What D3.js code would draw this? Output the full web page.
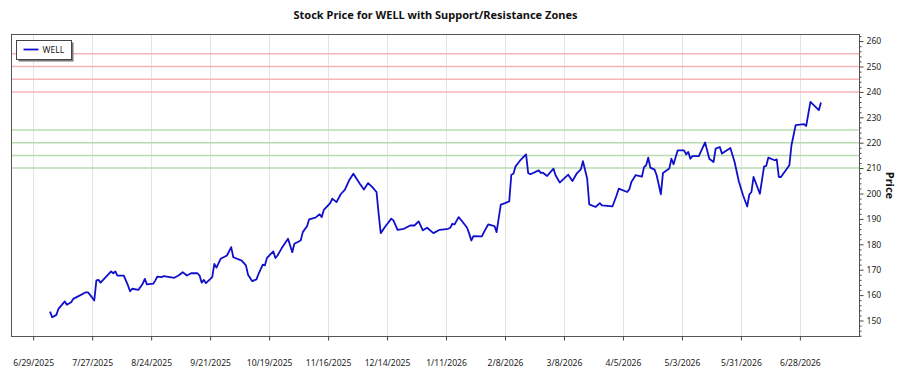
<!DOCTYPE html>
<html>
<head>
<meta charset="utf-8">
<script src="https://cdn.jsdelivr.net/npm/d3@7"></script>
<style>
  body { margin: 0; background: #fff; }
  svg { display: block; font-family: "Segoe UI", "Noto Sans", sans-serif; }
</style>
</head>
<body>
<svg id="chart" width="900" height="375"></svg>
<script>
// closing prices
const dates = [
  "2025-07-07","2025-07-08","2025-07-10","2025-07-11","2025-07-14","2025-07-15","2025-07-17","2025-07-18","2025-07-21","2025-07-24",
  "2025-07-25","2025-07-26","2025-07-28","2025-07-29","2025-07-30","2025-07-31","2025-08-02","2025-08-05","2025-08-06","2025-08-07",
  "2025-08-08","2025-08-11","2025-08-13","2025-08-14","2025-08-15","2025-08-18","2025-08-20","2025-08-21","2025-08-22","2025-08-25",
  "2025-08-26","2025-08-27","2025-08-29","2025-08-30","2025-09-04","2025-09-06","2025-09-08","2025-09-10","2025-09-12","2025-09-15",
  "2025-09-16","2025-09-17","2025-09-18","2025-09-19","2025-09-22","2025-09-23","2025-09-24","2025-09-26","2025-09-29","2025-10-01",
  "2025-10-02","2025-10-06","2025-10-08","2025-10-09","2025-10-11","2025-10-13","2025-10-14","2025-10-16","2025-10-17","2025-10-18",
  "2025-10-21","2025-10-22","2025-10-23","2025-10-25","2025-10-28","2025-10-30","2025-10-31","2025-11-03","2025-11-04","2025-11-06",
  "2025-11-07","2025-11-10","2025-11-12","2025-11-13","2025-11-14","2025-11-17","2025-11-18","2025-11-20","2025-11-22","2025-11-24",
  "2025-11-26","2025-11-28","2025-12-01","2025-12-03","2025-12-05","2025-12-07","2025-12-09","2025-12-10","2025-12-11","2025-12-13",
  "2025-12-16","2025-12-17","2025-12-19","2025-12-22","2025-12-25","2025-12-27","2025-12-29","2025-12-31","2026-01-02","2026-01-05",
  "2026-01-08","2026-01-12","2026-01-13","2026-01-14","2026-01-15","2026-01-17","2026-01-19","2026-01-21","2026-01-22","2026-01-23",
  "2026-01-24","2026-01-28","2026-01-29","2026-01-31","2026-02-03","2026-02-04","2026-02-06","2026-02-08","2026-02-10","2026-02-11",
  "2026-02-12","2026-02-13","2026-02-15","2026-02-18","2026-02-19","2026-02-20","2026-02-24","2026-02-25","2026-02-26","2026-02-28",
  "2026-03-03","2026-03-04","2026-03-06","2026-03-10","2026-03-12","2026-03-14","2026-03-16","2026-03-17","2026-03-19","2026-03-20",
  "2026-03-23","2026-03-25","2026-03-26","2026-03-31","2026-04-02","2026-04-03","2026-04-07","2026-04-08","2026-04-09","2026-04-11",
  "2026-04-14","2026-04-15","2026-04-16","2026-04-17","2026-04-18","2026-04-20","2026-04-21","2026-04-23","2026-04-24","2026-04-27",
  "2026-04-28","2026-04-29","2026-05-01","2026-05-04","2026-05-05","2026-05-06","2026-05-07","2026-05-08","2026-05-11","2026-05-14",
  "2026-05-16","2026-05-18","2026-05-19","2026-05-21","2026-05-22","2026-05-26","2026-05-28","2026-05-30","2026-06-01","2026-06-03",
  "2026-06-04","2026-06-05","2026-06-06","2026-06-09","2026-06-11","2026-06-12","2026-06-13","2026-06-16","2026-06-17","2026-06-18",
  "2026-06-19","2026-06-23","2026-06-24","2026-06-26","2026-06-30","2026-07-01","2026-07-03","2026-07-07","2026-07-08"
];
const prices = [
  153.5,151.3,152.2,154.6,157.5,156.2,157.2,158.5,159.8,161.1,
  161.1,160.1,157.9,165.8,166.0,164.9,166.7,169.3,168.6,169.3,
  167.7,167.7,163.8,161.5,162.5,162.1,164.5,166.4,164.2,164.5,
  165.8,167.3,167.1,167.5,166.8,167.7,169.0,167.7,168.6,168.6,
  167.7,164.9,166.0,164.7,167.1,172.3,170.8,174.3,175.6,178.9,
  174.9,173.6,171.7,168.0,165.5,166.2,168.4,172.0,171.7,174.7,
  177.2,174.6,175.6,178.5,182.2,176.9,180.2,181.5,184.8,187.1,
  189.8,190.5,191.8,190.7,193.6,196.2,198.0,196.6,199.7,201.5,
  205.2,207.8,203.9,201.6,204.1,202.5,200.6,192.1,184.4,186.8,
  190.1,189.4,185.7,186.1,187.4,187.4,189.0,185.5,186.5,184.4,
  185.7,186.1,186.5,188.1,187.8,190.7,188.7,186.5,184.2,181.5,
  183.2,183.1,184.8,187.8,187.2,184.8,195.6,196.2,196.9,207.4,
  207.8,210.7,212.8,215.4,208.1,207.6,209.1,208.1,208.2,206.9,
  209.8,207.2,204.3,207.4,204.9,207.8,209.5,212.7,205.9,195.7,
  194.7,196.2,195.3,194.9,199.3,201.9,200.6,201.6,204.5,207.2,
  206.6,210.4,211.1,214.1,210.2,209.4,207.2,199.7,208.1,209.8,
  213.7,211.5,217.0,217.0,215.4,216.4,213.7,214.7,214.7,220.1,
  213.7,212.4,217.7,218.3,215.7,217.9,212.4,204.8,199.3,194.9,
  199.6,200.6,206.5,199.9,210.7,210.8,214.1,213.1,213.4,206.5,
  206.5,211.1,219.0,226.9,227.3,226.6,236.1,232.8,235.8
];
const resistance = [240, 245, 250, 255];
const support = [210, 215, 220, 225];
const xTickDates = ["2025-06-29","2025-07-27","2025-08-24","2025-09-21","2025-10-19","2025-11-16","2025-12-14",
  "2026-01-11","2026-02-08","2026-03-08","2026-04-05","2026-05-03","2026-05-31","2026-06-28"];
const yTicks = [150, 160, 170, 180, 190, 200, 210, 220, 230, 240, 250, 260];
const yLimits = [143.7, 262.6];
const ticker = "WELL";

const parse = d3.timeParse("%Y-%m-%d");
const data = dates.map((d, i) => ({ date: parse(d), price: prices[i] }));

const svg = d3.select("#chart");
const pLeft = 11.5, pRight = 859.5, pTop = 34.5, pBottom = 336.5;

// x axis gets 5% padding on both sides of the data
const ext = d3.extent(data, d => d.date);
const pad = (ext[1] - ext[0]) * 0.05;
const x = d3.scaleTime()
    .domain([new Date(+ext[0] - pad), new Date(+ext[1] + pad)])
    .range([pLeft, pRight]);
const y = d3.scaleLinear().domain(yLimits).range([pBottom, pTop]);

const xTicks = xTickDates.map(parse);
const fmt = d => (d.getMonth() + 1) + "/" + d.getDate() + "/" + d.getFullYear();

// vertical grid
svg.append("g")
    .selectAll("line")
    .data(xTicks)
    .join("line")
    .attr("x1", d => Math.round(x(d)) + 0.5)
    .attr("x2", d => Math.round(x(d)) + 0.5)
    .attr("y1", pTop)
    .attr("y2", pBottom)
    .attr("stroke", "#e3e3e3")
    .attr("stroke-width", 1);

// zone lines
svg.append("g")
    .selectAll("line")
    .data(resistance)
    .join("line")
    .attr("x1", pLeft).attr("x2", pRight)
    .attr("y1", d => y(d)).attr("y2", d => y(d))
    .attr("stroke", "#f7b4b4")
    .attr("stroke-width", 1.5);

svg.append("g")
    .selectAll("line")
    .data(support)
    .join("line")
    .attr("x1", pLeft).attr("x2", pRight)
    .attr("y1", d => y(d)).attr("y2", d => y(d))
    .attr("stroke", "#b7dcb0")
    .attr("stroke-width", 1.5);

// price line
svg.append("path")
    .datum(data)
    .attr("fill", "none")
    .attr("stroke", "#1010cc")
    .attr("stroke-width", 1.8)
    .attr("stroke-linejoin", "round")
    .attr("d", d3.line().x(d => x(d.date)).y(d => y(d.price)));

// frame
svg.append("rect")
    .attr("x", pLeft).attr("y", pTop)
    .attr("width", pRight - pLeft).attr("height", pBottom - pTop)
    .attr("fill", "none")
    .attr("stroke", "#555")
    .attr("stroke-width", 1);

// bottom axis
const xAxis = svg.append("g")
    .attr("transform", `translate(0,${pBottom})`)
    .call(d3.axisBottom(x).tickValues(xTicks).tickFormat(fmt).tickSize(4).tickPadding(19));
xAxis.select(".domain").remove();
xAxis.selectAll("line").attr("stroke", "#444");
xAxis.selectAll("text").attr("fill", "#222").attr("font-size", "8.6px")
    .attr("font-family", "'Segoe UI','Noto Sans',sans-serif");

// right axis with minor ticks
const yMinor = d3.range(144, 263, 2).filter(v => v % 10 !== 0);
const yMinorAxis = svg.append("g")
    .attr("transform", `translate(${pRight},0)`)
    .call(d3.axisRight(y).tickValues(yMinor).tickFormat("").tickSize(2));
yMinorAxis.select(".domain").remove();
yMinorAxis.selectAll("line").attr("stroke", "#444");

const yAxis = svg.append("g")
    .attr("transform", `translate(${pRight},0)`)
    .call(d3.axisRight(y).tickValues(yTicks).tickSize(4).tickPadding(3));
yAxis.select(".domain").remove();
yAxis.selectAll("line").attr("stroke", "#444");
yAxis.selectAll("text").attr("fill", "#222").attr("font-size", "8.6px")
    .attr("font-family", "'Segoe UI','Noto Sans',sans-serif");

// axis title
svg.append("text")
    .attr("transform", `translate(890,${(pTop + pBottom) / 2}) rotate(90)`)
    .attr("text-anchor", "middle")
    .attr("dy", "0.35em")
    .attr("font-size", "11px")
    .attr("font-weight", "bold")
    .attr("fill", "#111")
    .text("Price");

// title
svg.append("text")
    .attr("x", 435.5)
    .attr("y", 19)
    .attr("text-anchor", "middle")
    .attr("font-size", "11px")
    .attr("font-weight", "bold")
    .attr("fill", "#111")
    .text(`Stock Price for ${ticker} with Support/Resistance Zones`);

// legend
const lg = svg.append("g").attr("transform", "translate(16.5,40.5)");
lg.append("rect")
    .attr("x", 2).attr("y", 2).attr("width", 55).attr("height", 19)
    .attr("fill", "#777");
lg.append("rect")
    .attr("width", 55).attr("height", 19)
    .attr("fill", "#fff").attr("stroke", "#444");
lg.append("line")
    .attr("x1", 7).attr("x2", 22).attr("y1", 9).attr("y2", 9)
    .attr("stroke", "#1010cc").attr("stroke-width", 1.8);
lg.append("text")
    .attr("x", 26).attr("y", 9).attr("dy", "0.35em")
    .attr("font-size", "8.6px").attr("fill", "#222")
    .text(ticker);
</script>
</body>
</html>
